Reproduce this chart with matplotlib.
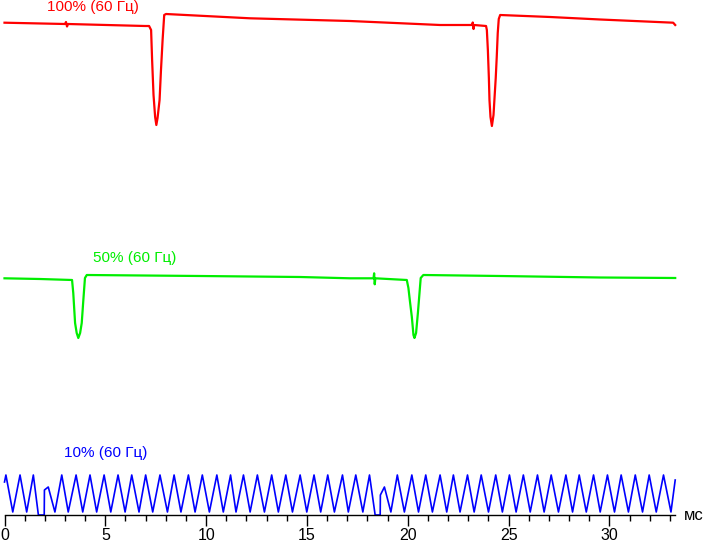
import matplotlib
matplotlib.use("Agg")
import matplotlib.pyplot as plt
import numpy as np

plt.rcParams['font.family'] = ['Liberation Sans', 'DejaVu Sans']

# ---------------- data (time in ms, brightness in relative units) ----------------
red_t = [0.00, 3.00, 3.05, 3.10, 3.15, 6.97, 7.17, 7.27, 7.32, 7.39, 7.47, 7.53, 7.59,
         7.69, 7.76, 7.84, 7.92, 8.01, 12.18, 17.14, 21.60, 23.19, 23.22, 23.26, 23.29,
         23.88, 23.92, 23.97, 24.02, 24.05, 24.10, 24.17, 24.25, 24.30, 24.36, 24.41,
         24.46, 24.51, 24.58, 27.06, 29.54, 33.16, 33.26]
red_v = [102.3, 101, 103, 98.5, 101, 99, 99, 95, 65, 30, 8, 0, 7,
         25, 55, 85, 110, 111, 106.7, 104, 100, 100, 102.5, 96, 100,
         99, 95, 75, 47, 25, 8, -1, 10, 27, 47, 68,
         92, 106, 110, 108, 105.5, 102.3, 100]

green_t = [0.00, 1.76, 3.35, 3.41, 3.50, 3.58, 3.66, 3.75, 3.83, 3.91, 3.99, 4.08,
           9.70, 14.66, 17.14, 18.30, 18.33, 18.36, 18.39, 19.95, 20.03, 20.11, 20.20, 20.28,
           20.33, 20.41, 20.50, 20.56, 20.64, 20.77, 24.58, 29.54, 33.26]
green_v = [59.7, 59, 58, 45, 15, 5, 0, 5, 15, 38, 60, 63,
           62, 61, 59.7, 59.7, 64.7, 53.7, 59.7, 58, 50, 36, 21, 3,
           0, 5, 25, 40, 60, 63, 62, 60.5, 60]

blue_t = [0.00, 0.07, 0.41, 0.77, 1.10, 1.43, 1.68, 1.97, 1.98, 2.17, 2.50, 2.84, 3.16,
          3.55, 3.88, 4.24, 4.57, 4.94, 5.27, 5.63, 5.98, 6.31, 6.67, 7.00, 7.35, 7.71,
          8.08, 8.41, 8.75, 9.12, 9.45, 9.81, 10.16, 10.53, 10.85, 11.21, 11.48, 11.85,
          12.18, 12.54, 12.89, 13.25, 13.58, 13.95, 14.28, 14.66, 14.99, 15.35, 15.68,
          16.03, 16.36, 16.76, 17.05, 17.42, 17.77, 18.10, 18.38, 18.63, 18.64, 18.84,
          19.16, 19.48, 19.83, 20.20, 20.53, 20.89, 21.22, 21.60, 21.93, 22.26, 22.59,
          22.96, 23.29, 23.64, 24.00, 24.36, 24.69, 25.04, 25.37, 25.73, 26.07, 26.43,
          26.76, 27.11, 27.47, 27.84, 28.17, 28.50, 28.85, 29.21, 29.54, 29.90, 30.25,
          30.58, 30.94, 31.28, 31.64, 31.97, 32.32, 32.68, 33.05, 33.26]
blue_v = [33, 40, 3, 40, 3, 40, 0, 0, 25, 28, 3, 40, 3,
          40, 3, 40, 3, 40, 3, 40, 3, 40, 3, 40, 3, 40,
          3, 40, 3, 40, 3, 40, 3, 40, 3, 40, 3, 40,
          3, 40, 3, 40, 3, 40, 3, 40, 3, 40, 3,
          40, 3, 40, 3, 40, 3, 40, 0, 0, 20, 28,
          3, 40, 3, 40, 3, 40, 3, 40, 3, 40, 3,
          40, 3, 40, 3, 40, 3, 40, 3, 40, 3, 40,
          3, 40, 3, 40, 3, 40, 3, 40, 3, 40, 3,
          40, 3, 40, 3, 40, 3, 40, 3, 35]

labels = ["100% (60 Гц)", "50% (60 Гц)", "10% (60 Гц)"]
x_major = [0, 5, 10, 15, 20, 25, 30]
x_unit = "мс"

# ---------------- style / layout ----------------
W, H = 703, 543
fig = plt.figure(figsize=(W / 100, H / 100), dpi=100)
ax = fig.add_axes([4.5 / W, 28 / H, 670.5 / W, 515 / H])
ax.set_xlim(0, 33.25)
ax.set_ylim(0, 515)

offsets = [390, 177, 0]
colors = ["#ff0000", "#00ee00", "#0000ff"]
widths = [1.6, 1.6, 1.2]
label_pos = [(4.39, 508), (6.46, 257), (5.0, 62)]

series = [(red_t, red_v), (green_t, green_v), (blue_t, blue_v)]
for (t, v), off, c, lw, lab, (lx, ly) in zip(series, offsets, colors, widths, labels, label_pos):
    ax.plot(t, np.asarray(v) + off, color=c, lw=lw, clip_on=False)
    ax.text(lx, ly, lab, color=c, fontsize=11, ha='center', va='center')

for s in ['top', 'left', 'right']:
    ax.spines[s].set_visible(False)
ax.spines['bottom'].set_linewidth(1.0)
ax.spines['bottom'].set_bounds(0, 33.25)
ax.set_yticks([])
ax.set_xticks(x_major)
ax.set_xticklabels([str(v) for v in x_major])
ax.set_xticks(np.arange(0, 34, 1), minor=True)
ax.tick_params(axis='x', which='major', direction='out', length=8, width=1, labelsize=11.5, pad=1)
ax.tick_params(axis='x', which='minor', direction='out', length=4, width=1)
ax.text(34.2, -1, x_unit, fontsize=12, ha='center', va='center', clip_on=False)

fig.savefig("out.png", dpi=100)
